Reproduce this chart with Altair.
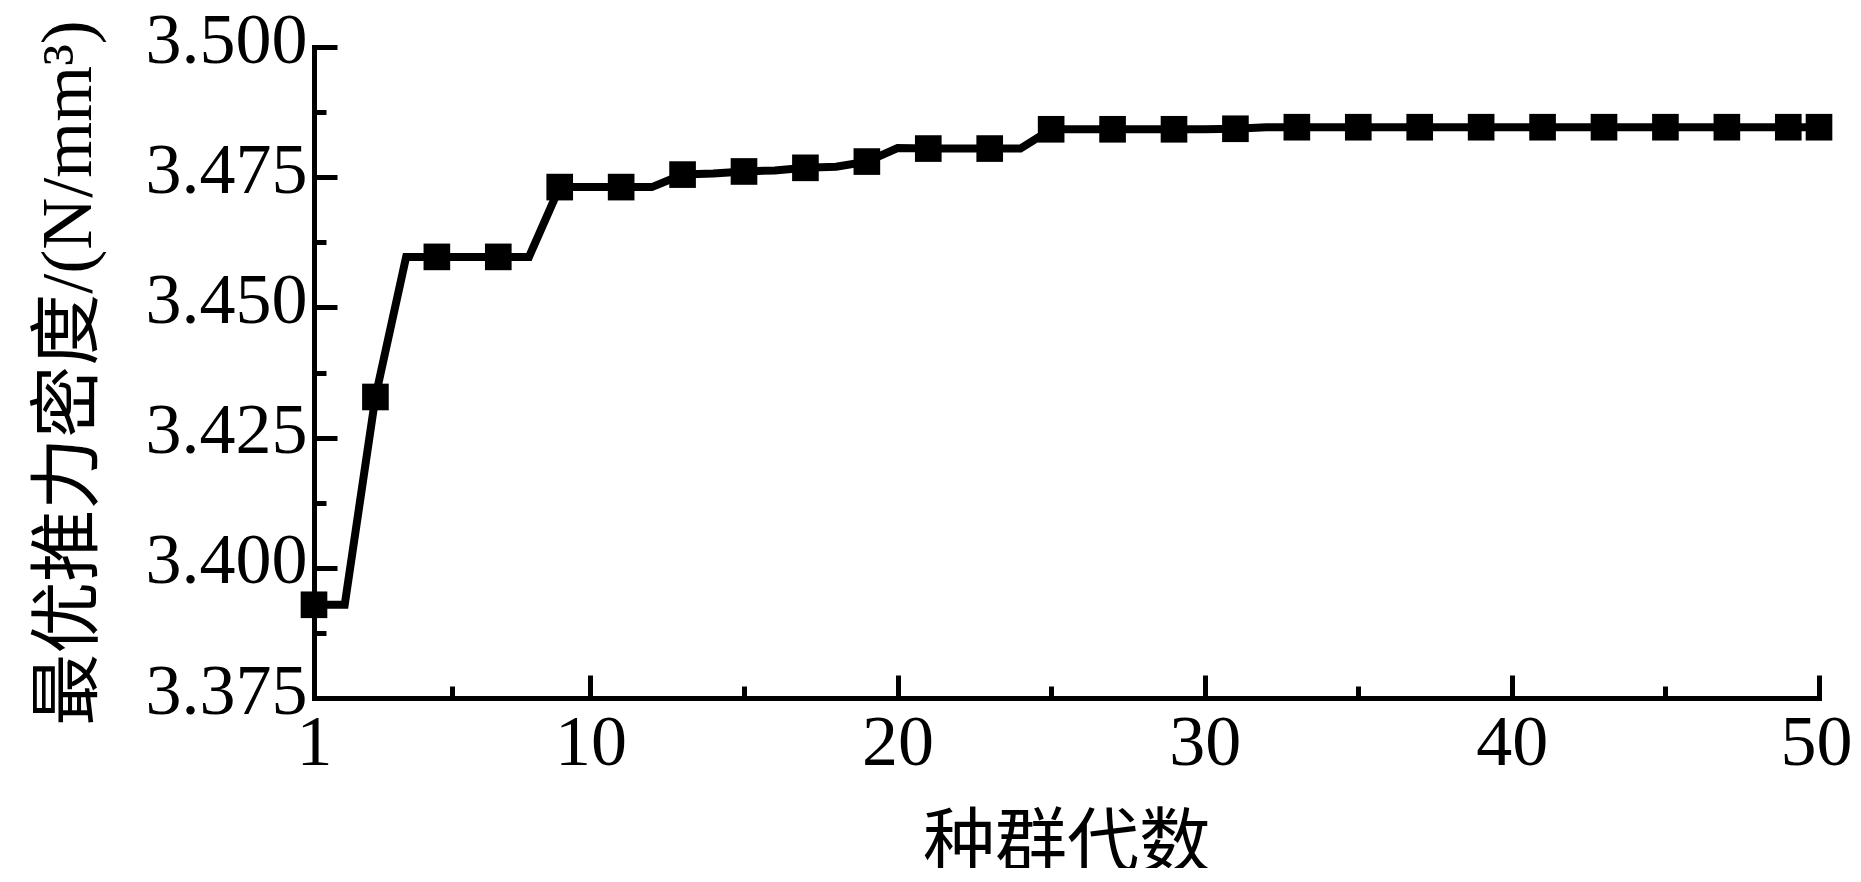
import altair as alt
import pandas as pd

# ---- data ----
generations = list(range(1, 51))
thrust_density = [
    3.3929, 3.3929, 3.4328, 3.4597, 3.4597, 3.4597, 3.4597, 3.4597, 3.4731, 3.4731,
    3.4731, 3.4731, 3.4755, 3.4757, 3.4761, 3.4763, 3.4768, 3.4770, 3.4780, 3.4806,
    3.4805, 3.4805, 3.4805, 3.4805, 3.4842, 3.4842, 3.4842, 3.4842, 3.4842, 3.4842,
    3.4843, 3.4846, 3.4846, 3.4846, 3.4846, 3.4846, 3.4846, 3.4846, 3.4846, 3.4846,
    3.4846, 3.4846, 3.4846, 3.4846, 3.4846, 3.4846, 3.4846, 3.4846, 3.4846, 3.4846,
]
x_major = [1, 10, 20, 30, 40, 50]
x_minor = [5.5, 15, 25, 35, 45]
y_major = [3.375, 3.400, 3.425, 3.450, 3.475, 3.500]
y_minor = [3.3875, 3.4125, 3.4375, 3.4625, 3.4875]
x_title = "种群代数"
y_title = "最优推力密度/(N/mm³)"

df = pd.DataFrame({"gen": generations, "val": thrust_density})

FONT = "Liberation Serif, Times New Roman, Noto Sans CJK SC"
xscale = alt.Scale(domain=[1, 50], nice=False, zero=False)
yscale = alt.Scale(domain=[3.375, 3.500], nice=False, zero=False)

main_x = alt.Axis(values=x_major, orient="bottom", ticks=False, tickSize=0,
                  domain=True, domainColor="black", domainWidth=5, domainCap="square",
                  labelFont=FONT, labelFontSize=72, labelColor="black", labelPadding=9,
                  labelOffset={"condition": {"test": "datum.value == 50", "value": -3},
                               "value": 0},
                  labelFlush=False, labelOverlap=False, grid=False, format="d",
                  titleFont=FONT, titleFontSize=72, titleFontWeight="normal",
                  titleColor="black", titlePadding=31)
main_y = alt.Axis(values=y_major, orient="left", ticks=False, tickSize=0,
                  domain=True, domainColor="black", domainWidth=5, domainCap="square",
                  labelFont=FONT, labelFontSize=72, labelColor="black", labelPadding=7,
                  labelOffset=-7, labelFlush=False, labelOverlap=False, grid=False,
                  format=".3f",
                  titleFont=FONT, titleFontSize=72, titleFontWeight="normal",
                  titleColor="black", titlePadding=40)


def tick_axis(vals, orient, length):
    return alt.Axis(values=vals, orient=orient, offset=-length, tickSize=length,
                    tickWidth=5, tickColor="black", domain=False, labels=False,
                    grid=False)


base = alt.Chart(df)

line = base.mark_line(color="black", strokeWidth=8).encode(
    x=alt.X("gen:Q", scale=xscale, axis=main_x, title=x_title),
    y=alt.Y("val:Q", scale=yscale, axis=main_y, title=y_title),
)

minor = base.mark_line(opacity=0).encode(
    x=alt.X("gen:Q", scale=xscale, axis=tick_axis(x_minor, "bottom", 12), title=""),
    y=alt.Y("val:Q", scale=yscale, axis=tick_axis(y_minor, "left", 12), title=""),
)

points = base.transform_filter(
    "datum.gen % 2 == 1 || datum.gen == 50"
).mark_square(size=710, color="black", opacity=1, filled=True).encode(
    x=alt.X("gen:Q", scale=xscale, axis=tick_axis(x_major, "bottom", 23), title=""),
    y=alt.Y("val:Q", scale=yscale, axis=tick_axis(y_major, "left", 23), title=""),
)

chart = alt.layer(line, minor, points).resolve_axis(
    x="independent", y="independent"
).properties(
    width=1505,
    height=651,
    autosize=alt.AutoSizeParams(type="none"),
    padding={"left": 306, "top": 39, "right": 33, "bottom": 170},
    background="white",
).configure_view(strokeWidth=0)

chart.save("out.html", embed_options={"renderer": "svg", "actions": False})
